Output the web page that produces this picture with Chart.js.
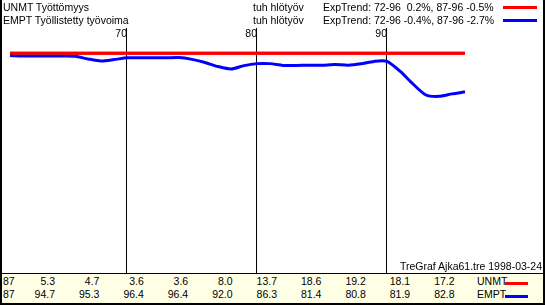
<!DOCTYPE html>
<html>
<head>
<meta charset="utf-8">
<script src="https://cdn.jsdelivr.net/npm/chart.js@4/dist/chart.umd.min.js"></script>
<style>
  html, body { margin:0; padding:0; background:#fff; }
  #wrap { position:relative; width:545px; height:305px; overflow:hidden; background:#fff;
          font-family:"Liberation Sans", Arial, sans-serif; font-size:10.5px; color:#000; }
  #wrap canvas { position:absolute; left:0; top:0; }
  .t { position:absolute; white-space:pre; line-height:13px; }
  .mark { position:absolute; height:3px; }
  #table { position:absolute; left:2px; top:273px; width:541px; height:30px;
           background:#ffffe6; border-top:1px solid #000; }
  .bl { position:absolute; left:0; top:0; width:2px; height:305px; background:#000; }
  .br { position:absolute; right:0; top:0; width:2px; height:305px; background:#000; }
  .bb { position:absolute; left:0; bottom:0; width:545px; height:2px; background:#000; }
</style>
</head>
<body>
<div id="wrap">
  <canvas id="chart" width="545" height="305"></canvas>
  <div id="table"></div>
  <div class="bl"></div><div class="br"></div><div class="bb"></div>
</div>
<script>
// ── DATA ────────────────────────────────────────────────
const YEARS = [61,62,63,64,65,66,67,68,69,70,71,72,73,74,75,76,77,78,
               79,80,81,82,83,84,85,86,87,88,89,90,91,92,93,94,95,96];
const EMPT  = [99.0,98.8,98.8,98.8,98.8,98.7,97.5,96.6,97.2,98.0,98.0,98.0,98.0,98.1,97.3,95.9,94.1,93.0,
               94.5,95.4,95.4,94.6,94.6,94.7,94.7,95.0,94.7,95.3,96.4,96.4,92.0,86.3,81.4,80.8,81.9,82.8];
const UNMT  = [1.0,1.2,1.2,1.2,1.2,1.3,2.5,3.4,2.8,2.0,2.0,2.0,2.0,1.9,2.7,4.1,5.9,7.0,
               5.5,4.6,4.6,5.4,5.4,5.3,5.3,5.0,5.3,4.7,3.6,3.6,8.0,13.7,18.6,19.2,18.1,17.2];
const GRID_YEARS  = [70, 80, 90];
const TABLE_START = 87;   // table shows the last ten years
const HEAD = [
  { name:'UNMT Työttömyys',            unit:'tuh hlötyöv', trend:'ExpTrend: 72-96  0.2%, 87-96 -0.5%', color:'#ff0000' },
  { name:'EMPT Työllistetty työvoima', unit:'tuh hlötyöv', trend:'ExpTrend: 72-96 -0.4%, 87-96 -2.7%', color:'#0000ff' },
];
const FOOTER = 'TreGraf Ajka61.tre 1998-03-24';

const wrap = document.getElementById('wrap');
const addText = (txt, css, parent = wrap) => {
  const d = document.createElement('div');
  d.className = 't';
  d.textContent = txt;
  Object.assign(d.style, css);
  parent.appendChild(d);
  return d;
};
const addMark = (css, parent = wrap) => {
  const m = document.createElement('div');
  m.className = 'mark';
  Object.assign(m.style, css);
  parent.appendChild(m);
};

// ── HEADER ──────────────────────────────────────────────
HEAD.forEach((h, i) => {
  const top = (1 + i * 13) + 'px';
  addText(h.name,  { left:'3px',   top });
  addText(h.unit,  { left:'253px', top });
  addText(h.trend, { left:'323px', top });
  addMark({ left:'503px', width:'34px', top:(6 + i * 13) + 'px', background:h.color });
});
addText(FOOTER, { right:'3px', top:'260px' });

// ── TABLE ───────────────────────────────────────────────
const table = document.getElementById('table');
const startIdx = YEARS.indexOf(TABLE_START);
[UNMT, EMPT].forEach((series, r) => {
  const top = (1 + r * 13) + 'px';
  addText(String(TABLE_START), { left:'1px', top }, table);
  series.slice(startIdx).forEach((v, c) => {
    addText(v.toFixed(1), { right:(541 - (53 + c * 44.4)) + 'px', top }, table);
  });
  addText(HEAD[r].name.split(' ')[0], { left:'475px', top }, table);
  addMark({ left:'503px', width:'23px', top:(8 + r * 13) + 'px', background:HEAD[r].color }, table);
});

// ── CHART ───────────────────────────────────────────────
// red (stacked total) is drawn over the blue line
const redOnTop = {
  id: 'redOnTop',
  afterDatasetsDraw(chart) {
    chart.ctx.save();
    chart.getDatasetMeta(1).controller.draw();
    chart.ctx.restore();
  }
};

const chart = new Chart(document.getElementById('chart'), {
  type: 'line',
  data: {
    labels: YEARS,
    datasets: [
      { label:'EMPT', data:EMPT, borderColor:'#0000ff', borderWidth:3, pointRadius:0, tension:0.25, fill:false },
      { label:'UNMT', data:UNMT, borderColor:'#ff0000', borderWidth:3, pointRadius:0, tension:0.25, fill:false },
    ]
  },
  options: {
    responsive: false,
    animation: false,
    devicePixelRatio: 1,
    layout: { padding: { left:2, right:2, top:28, bottom:31 } },
    plugins: { legend:{ display:false }, tooltip:{ enabled:false } },
    scales: {
      x: {
        type: 'linear', position: 'top',
        min: 60.385, max: 102,
        afterBuildTicks: s => { s.ticks = GRID_YEARS.map(v => ({ value:v })); },
        afterFit: s => { s.height = 0; },
        grid: { color:'#000', lineWidth:1, drawTicks:false },
        border: { display:false },
        ticks: { display:false },
      },
      y: {
        display: false, stacked: true,
        min: 1.5, max: 111.3,
      }
    }
  },
  plugins: [redOnTop]
});

// year labels beside the grid lines
GRID_YEARS.forEach(v => {
  const x = chart.scales.x.getPixelForValue(v);
  addText(String(v), { right:(545 - Math.round(x)) + 'px', top:'27px' });
});
</script>
</body>
</html>
